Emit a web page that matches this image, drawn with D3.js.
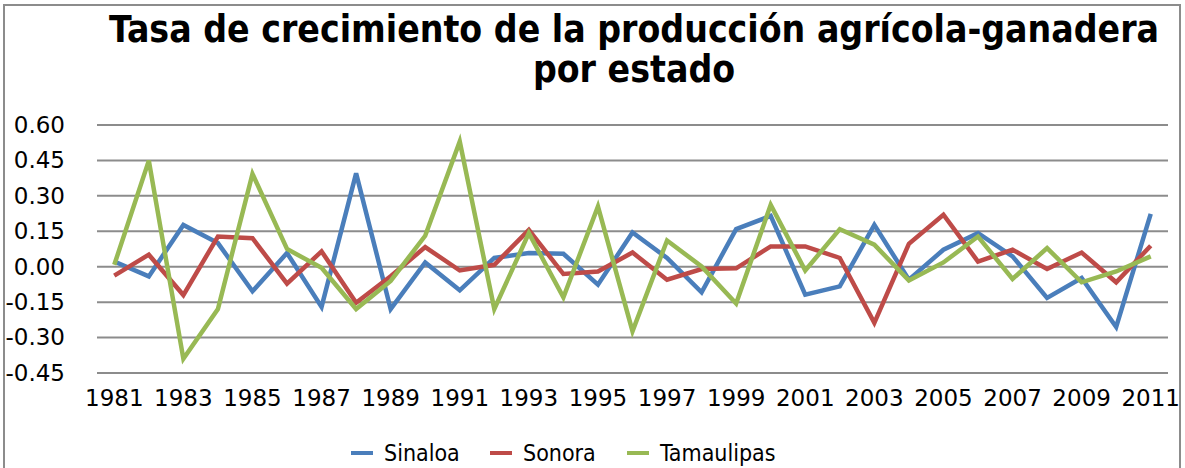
<!DOCTYPE html>
<html>
<head>
<meta charset="utf-8">
<script src="https://cdn.jsdelivr.net/npm/d3@7"></script>
<style>
  body { margin: 0; background: #fff; }
  svg { display: block; font-family: "DejaVu Sans Condensed", "DejaVu Sans", sans-serif; }
</style>
</head>
<body>
<svg id="chart" width="1185" height="468"></svg>
<script>
// ---- Datos
const years = d3.range(1981, 2012);
const yTicks = [0.60, 0.45, 0.30, 0.15, 0.00, -0.15, -0.30, -0.45];

const sinaloa = [0.022, -0.041, 0.177, 0.100, -0.104, 0.058, -0.170, 0.395, -0.179, 0.018,
                 -0.100, 0.037, 0.058, 0.055, -0.076, 0.145, 0.037, -0.108, 0.159, 0.215,
                 -0.118, -0.083, 0.177, -0.055, 0.072, 0.142, 0.044, -0.132, -0.048, -0.255, 0.224];
const sonora = [-0.038, 0.051, -0.120, 0.128, 0.121, -0.072, 0.065, -0.153, -0.040, 0.083,
                -0.016, 0.008, 0.156, -0.031, -0.020, 0.060, -0.055, -0.010, -0.007, 0.086,
                0.086, 0.037, -0.238, 0.097, 0.220, 0.022, 0.072, -0.010, 0.060, -0.066, 0.089];
const tamaulipas = [0.008, 0.449, -0.390, -0.179, 0.393, 0.075, -0.005, -0.179, -0.060, 0.131,
                    0.530, -0.179, 0.142, -0.130, 0.255, -0.273, 0.111, 0.001, -0.156, 0.262,
                    -0.016, 0.159, 0.093, -0.058, 0.018, 0.128, -0.052, 0.079, -0.066, -0.020, 0.044];

const series = [
    { name: 'Sinaloa', values: sinaloa, color: '#4a7ebb' },
    { name: 'Sonora', values: sonora, color: '#be4b48' },
    { name: 'Tamaulipas', values: tamaulipas, color: '#98b954' }
];

const svg = d3.select('#chart');

// ---- Marco
svg.append('rect')
    .attr('x', 4).attr('y', 5)
    .attr('width', 1176).attr('height', 470)
    .attr('fill', 'none')
    .attr('stroke', '#8c8c8c')
    .attr('stroke-width', 2);

// ---- Título
const title = svg.append('text')
    .attr('text-anchor', 'middle')
    .attr('font-size', 37)
    .attr('font-weight', 'bold')
    .attr('fill', '#000');
title.append('tspan').attr('x', 634).attr('y', 42).text('Tasa de crecimiento de la producción agrícola-ganadera');
title.append('tspan').attr('x', 634).attr('y', 82).text('por estado');

// ---- Escalas
const plot = { left: 97, right: 1168, top: 125, bottom: 373 };

const x = d3.scaleBand().domain(years).range([plot.left, plot.right]);
const y = d3.scaleLinear().domain([-0.45, 0.60]).range([plot.bottom, plot.top]);

// ---- Líneas de cuadrícula
svg.append('g')
    .selectAll('line')
    .data(yTicks)
    .join('line')
    .attr('x1', plot.left).attr('x2', plot.right)
    .attr('y1', d => y(d)).attr('y2', d => y(d))
    .attr('stroke', '#8c8c8c')
    .attr('stroke-width', 2);

// ---- Eje Y (guion normal en vez del signo menos de d3)
const fmt = d3.format('.2f');
const yAxis = d3.axisLeft(y).tickValues(yTicks).tickSize(0).tickPadding(0)
    .tickFormat(d => fmt(d).replace('\u2212', '-'));
svg.append('g')
    .attr('transform', `translate(65, 0)`)
    .call(yAxis)
    .call(g => g.select('.domain').remove())
    .call(g => g.selectAll('text')
        .attr('font-size', 23)
        .attr('font-family', '"DejaVu Sans", sans-serif')
        .attr('fill', '#000'));

// ---- Eje X
const xAxis = d3.axisBottom(x).tickValues(years.filter(d => (d - 1981) % 2 === 0)).tickSize(0).tickPadding(0);
svg.append('g')
    .attr('transform', `translate(0, 390)`)
    .call(xAxis)
    .call(g => g.select('.domain').remove())
    .call(g => g.selectAll('text')
        .attr('font-size', 23)
        .attr('font-family', '"DejaVu Sans", sans-serif')
        .attr('fill', '#000'));

// ---- Series
const line = d3.line()
    .x((d, i) => x(years[i]) + x.bandwidth() / 2)
    .y(d => y(d));

svg.append('g')
    .selectAll('path')
    .data(series)
    .join('path')
    .attr('d', d => line(d.values))
    .attr('fill', 'none')
    .attr('stroke', d => d.color)
    .attr('stroke-width', 4.5)
    .attr('stroke-linejoin', 'miter');

// ---- Leyenda
const legendX = [351, 490, 627];
const legend = svg.append('g')
    .selectAll('g')
    .data(series)
    .join('g')
    .attr('transform', (d, i) => `translate(${legendX[i]}, 453)`);

legend.append('line')
    .attr('x1', 0).attr('x2', 22)
    .attr('stroke', d => d.color)
    .attr('stroke-width', 4);

legend.append('text')
    .attr('x', 33)
    .attr('dy', '0.35em')
    .attr('font-size', 23)
    .attr('fill', '#000')
    .text(d => d.name);
</script>
</body>
</html>
